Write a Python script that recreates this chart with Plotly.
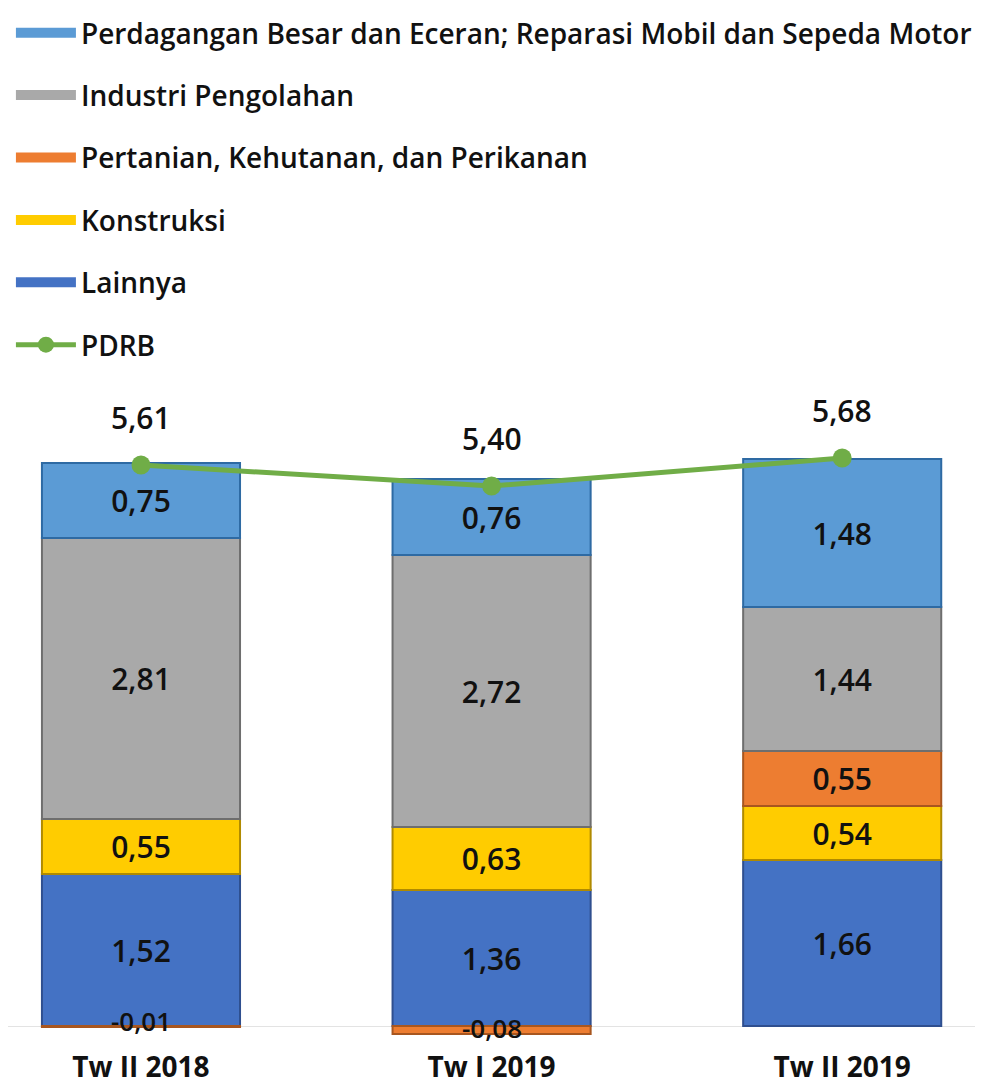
import plotly.graph_objects as go

categories = ["Tw II 2018", "Tw I 2019", "Tw II 2019"]
lainnya = [1.52, 1.36, 1.66]
konstruksi = [0.55, 0.63, 0.54]
pertanian = [-0.01, -0.08, 0.55]
industri = [2.81, 2.72, 1.44]
perdagangan = [0.75, 0.76, 1.48]
pdrb = [5.61, 5.40, 5.68]

series = [
    ("Lainnya", lainnya, "#4472C4", "#2F4F8F", 5),
    ("Konstruksi", konstruksi, "#FFCC00", "#B08A00", 4),
    ("Pertanian, Kehutanan, dan Perikanan", pertanian, "#ED7D31", "#A8561F", 3),
    ("Industri Pengolahan", industri, "#A9A9A9", "#6E6E6E", 2),
    ("Perdagangan Besar dan Eceran; Reparasi Mobil dan Sepeda Motor", perdagangan, "#5B9BD5", "#2E6AA3", 1),
]

FONT = "Open Sans"
fmt = lambda v: f"{v:.2f}".replace(".", ",")

fig = go.Figure()

fig.add_trace(go.Scatter(
    x=categories, y=pdrb, name="PDRB", mode="lines+markers",
    line=dict(color="#70AD47", width=5),
    marker=dict(color="#70AD47", size=19),
    legendgroup="PDRB", legendrank=6,
))

annotations = []
for name, vals, col, edge, rank in series:
    fig.add_trace(go.Bar(
        x=categories, y=vals, name=name, showlegend=False,
        marker=dict(color=col, line=dict(color=edge, width=2)),
        width=0.565,
        text=[fmt(v) if v > 0 else "" for v in vals],
        textposition="inside", insidetextanchor="middle", textangle=0,
        textfont=dict(family=FONT, size=30, color="#111111", weight=600),
        legendgroup=name,
    ))
    # legend proxy (wide rectangle symbol)
    fig.add_trace(go.Scatter(
        x=[None], y=[None], name=name, mode="lines",
        line=dict(color=col, width=10), legendgroup=name, legendrank=rank,
    ))
    for c, v in zip(categories, vals):
        if v < 0:
            annotations.append(dict(
                x=c, y=v, text=fmt(v), showarrow=False, yanchor="middle", yshift=6,
                font=dict(family=FONT, size=26, color="#111111", weight=600),
            ))

for c, v in zip(categories, pdrb):
    annotations.append(dict(
        x=c, y=v, text=fmt(v), showarrow=False, yanchor="middle", yshift=48,
        font=dict(family=FONT, size=30, color="#111111", weight=600),
    ))

fig.update_layout(
    width=975, height=1077,
    barmode="relative",
    plot_bgcolor="white", paper_bgcolor="white",
    margin=dict(l=0, r=0, t=382, b=37, autoexpand=False),
    font=dict(family=FONT, color="#111111"),
    annotations=annotations,
    legend=dict(
        x=0.003, y=1.0095, xref="container", yref="container",
        xanchor="left", yanchor="top",
        traceorder="grouped", tracegroupgap=23,
        itemwidth=60,
        font=dict(family=FONT, size=28, color="#111111", weight=600),
        bgcolor="rgba(0,0,0,0)",
    ),
    xaxis=dict(
        range=[-0.3793, 2.4016], showgrid=False, showline=False, ticks="",
        tickfont=dict(family=FONT, size=28, color="#111111", weight=700),
        automargin=False,
    ),
    yaxis=dict(
        range=[-0.22, 6.36], showgrid=False, showticklabels=False,
        zeroline=True, zerolinecolor="#E3E3E3", zerolinewidth=1,
        automargin=False,
    ),
)

fig.write_html("out.html")
